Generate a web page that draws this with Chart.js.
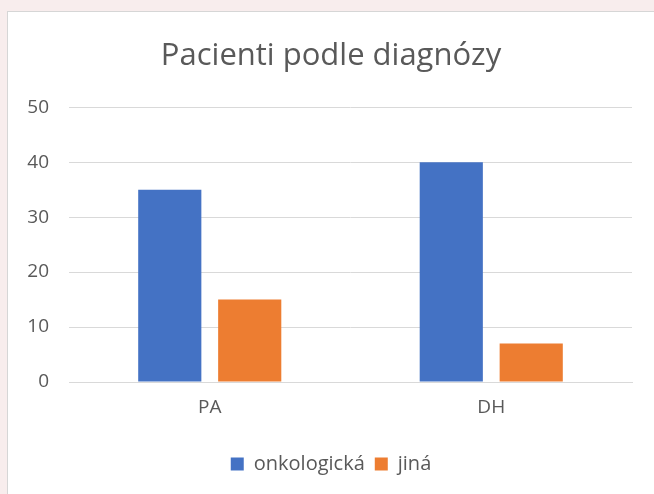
<!DOCTYPE html>
<html>
<head>
<meta charset="utf-8">
<script src="https://cdn.jsdelivr.net/npm/chart.js@4/dist/chart.umd.min.js"></script>
<style>
  html, body { margin: 0; padding: 0; background: #f8eded; overflow: hidden; }
  #panel {
    position: absolute; left: 7px; top: 11px;
    width: 660px; height: 500px;
    background: #fff; border: 1px solid #d6d6d6;
  }
  #chart { position: absolute; left: 0; top: 0; }
</style>
</head>
<body>
<div id="panel"><canvas id="chart" width="646" height="482"></canvas></div>
<script>
// kategorie a hodnoty
const kategorie = ["PA", "DH"];
const onkologicka = [35, 40];
const jina = [15, 7];
const yTicks = [0, 10, 20, 30, 40, 50];

const textColor = "#595959";
const fontFamily = "'Open Sans', 'Noto Sans', sans-serif";

const ctx = document.getElementById("chart").getContext("2d");
new Chart(ctx, {
  type: "bar",
  data: {
    labels: kategorie,
    datasets: [
      {
        label: "onkologická",
        data: onkologicka,
        backgroundColor: "#4472C4",
        barPercentage: 0.79,
        categoryPercentage: 0.568
      },
      {
        label: "jiná",
        data: jina,
        backgroundColor: "#ED7D31",
        barPercentage: 0.79,
        categoryPercentage: 0.568
      }
    ]
  },
  options: {
    responsive: false,
    animation: false,
    layout: { padding: { top: 4, right: 0, bottom: 10, left: 0 } },
    plugins: {
      title: {
        display: true,
        text: "Pacienti podle diagnózy",
        color: textColor,
        font: { family: fontFamily, size: 31, weight: "normal" },
        padding: { top: 22, bottom: 32 }
      },
      legend: {
        position: "bottom",
        labels: {
          color: textColor,
          font: { family: fontFamily, size: 20 },
          boxWidth: 13,
          boxHeight: 13,
          padding: 10
        }
      },
      tooltip: { enabled: false }
    },
    scales: {
      x: {
        grid: { display: false, drawTicks: false },
        border: { display: true, color: "#d9d9d9" },
        ticks: { color: textColor, font: { family: fontFamily, size: 19 }, padding: 14 },
        afterFit: s => { s.height = 62; }
      },
      y: {
        min: 0,
        max: 50,
        afterBuildTicks: s => { s.ticks = yTicks.map(v => ({ value: v })); },
        grid: { color: "#d9d9d9", drawTicks: false },
        border: { display: false },
        ticks: { color: textColor, font: { family: fontFamily, size: 19 }, padding: 20 },
        afterFit: s => { s.width = 61; }
      },
      // prázdná osa vpravo jen kvůli okraji
      yRight: {
        type: "linear",
        position: "right",
        grid: { display: false, drawTicks: false },
        border: { display: false },
        ticks: { display: false },
        afterFit: s => { s.width = 22; }
      }
    }
  }
});
</script>
</body>
</html>
